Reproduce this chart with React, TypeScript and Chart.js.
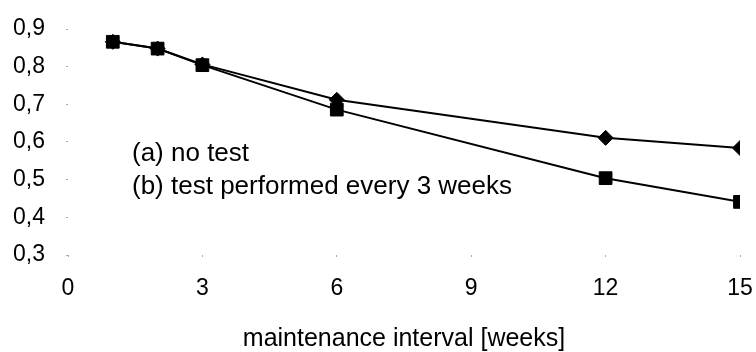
import React, { useEffect, useRef } from "react";
import { Chart, registerables } from "chart.js";

Chart.register(...registerables);

const intervals = [1, 2, 3, 6, 12, 15];
const noTest = [0.866, 0.848, 0.806, 0.712, 0.611, 0.584];
const testEvery3 = [0.866, 0.848, 0.804, 0.686, 0.504, 0.441];
const seriesLabels = ["(a) no test", "(b) test performed every 3 weeks"];
const xTitle = "maintenance interval [weeks]";

const FONT = "'Liberation Sans', Arial, sans-serif";

if (typeof document !== "undefined") {
  document.body.style.margin = "0";
  document.documentElement.style.overflow = "hidden";
}

const notesPlugin = {
  id: "notes",
  afterDraw(chart: any) {
    const { ctx, chartArea } = chart;
    ctx.save();
    ctx.fillStyle = "#000";
    ctx.font = `26px ${FONT}`;
    ctx.textAlign = "left";
    ctx.textBaseline = "middle";
    ctx.fillText(seriesLabels[0], chartArea.left + 64, chartArea.top + 125);
    ctx.fillText(seriesLabels[1], chartArea.left + 64, chartArea.top + 158);
    ctx.restore();
  },
};

export default function App() {
  const ref = useRef<HTMLCanvasElement>(null);
  useEffect(() => {
    if (!ref.current) return;
    const chart = new Chart(ref.current, {
      type: "line",
      data: {
        datasets: [
          {
            label: seriesLabels[0],
            data: intervals.map((x, i) => ({ x, y: noTest[i] })),
            borderColor: "#000",
            backgroundColor: "#000",
            borderWidth: 2,
            pointStyle: "rectRot",
            pointRadius: 7.5,
            pointBorderWidth: 1,
            order: 1,
          },
          {
            label: seriesLabels[1],
            data: intervals.map((x, i) => ({ x, y: testEvery3[i] })),
            borderColor: "#000",
            backgroundColor: "#000",
            borderWidth: 2,
            pointStyle: "rect",
            pointRadius: 9,
            pointBorderWidth: 1,
            order: 0,
          },
        ],
      },
      options: {
        animation: false,
        responsive: false,
        maintainAspectRatio: false,
        layout: { padding: { top: 21, right: 16, left: 0, bottom: 0 } },
        plugins: { legend: { display: false }, tooltip: { enabled: false } },
        scales: {
          x: {
            type: "linear",
            min: 0,
            max: 15,
            afterFit: (s: any) => {
              s.height = 97;
              s.paddingLeft = 0;
              s.paddingRight = 0;
            },
            ticks: {
              stepSize: 3,
              color: "#000",
              font: { family: FONT, size: 23 },
              padding: 18,
              maxRotation: 0,
            },
            grid: {
              drawOnChartArea: false,
              drawTicks: true,
              tickLength: 2,
              color: "#aaa",
            },
            border: { display: false },
            title: {
              display: true,
              text: xTitle,
              color: "#000",
              font: { family: FONT, size: 25, lineHeight: 1 },
              padding: { top: 0, bottom: 0 },
            },
          },
          y: {
            type: "linear",
            min: 0.3,
            max: 0.9,
            afterFit: (s: any) => {
              s.width = 60;
              s.paddingTop = 0;
              s.paddingBottom = 0;
            },
            ticks: {
              stepSize: 0.1,
              color: "#000",
              font: { family: FONT, size: 23 },
              padding: 21,
              callback: (v: any) => Number(v).toFixed(1).replace(".", ","),
            },
            grid: {
              drawOnChartArea: false,
              drawTicks: true,
              tickLength: 2,
              color: "#aaa",
            },
            border: { display: false },
          },
        },
      },
      plugins: [notesPlugin],
    });
    return () => chart.destroy();
  }, []);
  return (
    <div style={{ padding: "8px 0 0 8px", width: 748, height: 344 }}>
      <canvas ref={ref} width={748} height={344} style={{ width: 748, height: 344, display: "block" }} />
    </div>
  );
}
